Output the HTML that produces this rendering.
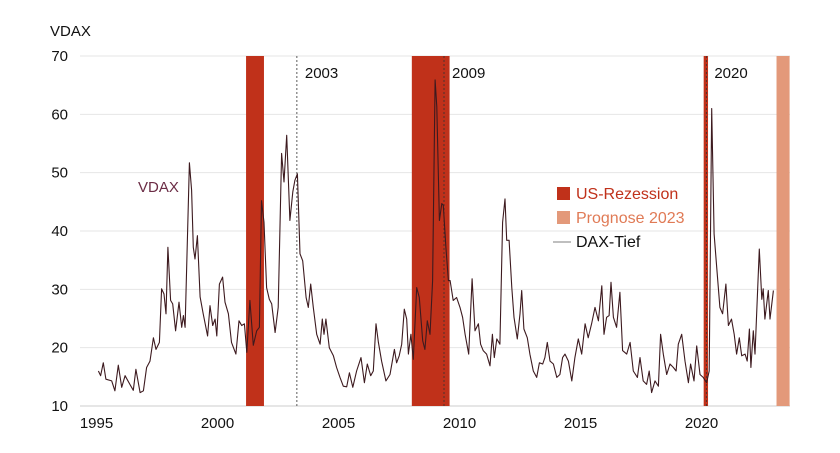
<!DOCTYPE html>
<html><head><meta charset="utf-8"><style>
body{margin:0;background:#fff;}
svg{display:block;font-family:"Liberation Sans",sans-serif;}
</style></head><body>
<svg id="chart" width="840" height="453" viewBox="0 0 840 453">
<text x="50" y="36" font-size="15" fill="#111">VDAX</text>
<g id="grid"></g><g id="bands"></g><g id="marks"></g><g id="line"></g><g id="axes"></g>
<text x="138" y="192" font-size="15" fill="#6b2c45">VDAX</text>
<g>
<rect x="557" y="187" width="13" height="13" fill="#c0311a"/>
<text x="576" y="199" font-size="16" fill="#c0311a">US-Rezession</text>
<rect x="557" y="211" width="13" height="13" fill="#e3997a"/>
<text x="576" y="223" font-size="16" fill="#e07a55">Prognose 2023</text>
<line x1="553" y1="242" x2="571" y2="242" stroke="#555" stroke-width="0.8"/>
<text x="576" y="247" font-size="16" fill="#111">DAX-Tief</text>
</g>
</svg>
<script>
const years=[1995.08,1995.17,1995.28,1995.39,1995.63,1995.76,1995.90,1996.04,1996.18,1996.38,1996.52,1996.63,1996.80,1996.94,1997.07,1997.21,1997.35,1997.46,1997.60,1997.69,1997.79,1997.87,1997.95,1998.06,1998.15,1998.27,1998.41,1998.52,1998.59,1998.66,1998.84,1998.93,1999.00,1999.07,1999.17,1999.28,1999.41,1999.59,1999.69,1999.80,1999.90,1999.97,2000.08,2000.21,2000.31,2000.45,2000.58,2000.76,2000.89,2001.00,2001.11,2001.21,2001.34,2001.48,2001.62,2001.73,2001.82,2001.92,2002.03,2002.14,2002.24,2002.38,2002.51,2002.65,2002.75,2002.86,2002.99,2003.11,2003.20,2003.30,2003.41,2003.52,2003.66,2003.75,2003.85,2003.96,2004.10,2004.24,2004.33,2004.40,2004.48,2004.62,2004.79,2004.92,2005.06,2005.20,2005.34,2005.45,2005.59,2005.75,2005.93,2006.07,2006.19,2006.33,2006.44,2006.55,2006.65,2006.78,2006.96,2007.13,2007.31,2007.40,2007.51,2007.61,2007.72,2007.82,2007.89,2007.99,2008.09,2008.23,2008.34,2008.48,2008.57,2008.67,2008.78,2008.89,2008.99,2009.06,2009.17,2009.27,2009.33,2009.44,2009.54,2009.61,2009.74,2009.88,2010.02,2010.13,2010.23,2010.38,2010.52,2010.64,2010.78,2010.87,2010.98,2011.12,2011.26,2011.36,2011.44,2011.54,2011.67,2011.78,2011.88,2011.95,2012.05,2012.16,2012.25,2012.39,2012.50,2012.57,2012.66,2012.80,2012.91,2013.05,2013.19,2013.30,2013.44,2013.53,2013.63,2013.74,2013.88,2014.02,2014.15,2014.26,2014.36,2014.50,2014.64,2014.77,2014.91,2015.05,2015.19,2015.32,2015.46,2015.60,2015.74,2015.88,2015.97,2016.08,2016.18,2016.26,2016.36,2016.49,2016.63,2016.74,2016.91,2017.05,2017.18,2017.35,2017.46,2017.59,2017.73,2017.84,2017.94,2018.08,2018.22,2018.31,2018.42,2018.56,2018.70,2018.84,2018.95,2019.04,2019.18,2019.32,2019.46,2019.55,2019.69,2019.80,2019.94,2020.07,2020.21,2020.32,2020.42,2020.52,2020.63,2020.76,2020.87,2021.01,2021.11,2021.24,2021.35,2021.45,2021.56,2021.66,2021.80,2021.89,2021.98,2022.04,2022.14,2022.21,2022.39,2022.49,2022.55,2022.62,2022.76,2022.83,2022.97];
const vdax=[16.0,15.2,17.4,14.6,14.3,12.6,17.0,13.2,15.2,13.7,12.7,16.3,12.3,12.6,16.6,17.7,21.7,19.7,20.9,30.1,29.2,25.8,37.2,28.1,27.5,22.9,27.8,23.5,25.5,23.5,51.7,47.0,37.2,35.2,39.2,28.7,25.8,22.0,27.2,23.8,24.9,22.0,30.9,32.1,27.8,25.8,20.9,18.9,24.6,23.8,24.1,19.2,28.1,20.4,22.9,23.5,45.2,41.5,30.3,28.3,27.5,22.6,26.9,53.3,48.4,56.4,41.8,46.7,48.7,49.8,36.1,34.9,28.6,26.9,30.9,26.9,22.3,20.6,24.9,22.3,24.9,20.0,18.6,16.6,14.9,13.4,13.3,15.7,13.2,16.0,18.3,14.0,17.2,15.2,16.0,24.1,20.9,17.7,14.3,15.4,19.7,17.4,18.6,20.6,26.6,24.9,18.9,22.3,18.0,30.3,28.6,21.2,19.7,24.6,22.3,31.5,65.9,61.3,41.8,44.7,44.4,37.2,31.5,31.5,28.1,28.6,26.9,25.2,22.3,18.9,31.8,22.9,24.1,20.6,19.5,18.9,16.9,22.3,18.3,21.5,20.6,41.5,45.5,38.4,38.4,30.3,25.2,21.5,25.8,29.8,23.2,21.7,18.9,16.0,14.9,17.4,17.2,18.3,20.9,17.7,17.2,14.9,15.4,18.3,18.9,17.7,14.3,18.3,21.5,18.9,24.1,21.7,24.1,26.9,24.6,30.6,22.3,25.2,25.5,31.2,25.2,23.5,29.5,19.5,18.9,20.9,16.0,14.9,18.3,14.3,13.7,16.0,12.3,14.3,13.4,22.3,18.9,15.4,17.2,16.6,16.0,20.6,22.3,17.7,14.0,17.2,14.3,20.3,15.4,14.9,14.0,16.0,61.0,39.5,33.8,26.9,25.8,30.9,23.8,24.9,22.3,18.9,21.7,18.6,18.9,17.7,23.2,16.6,22.9,18.9,36.9,28.3,30.1,24.9,29.8,24.9,29.8];
const yTicks=[10,20,30,40,50,60,70];
const xTicks=[1995,2000,2005,2010,2015,2020];
const recessionStarts=[2001.18,2008.03,2020.09];
const recessionEnds=[2001.92,2009.59,2020.27];
const forecastStart=[2023.1];
const forecastEnd=[2023.64];
const daxLowYears=[2003.28,2009.36,2020.2];
const daxLowLabels=["2003","2009","2020"];
const NS="http://www.w3.org/2000/svg";
function X(y){return 96.5+(y-1995)*24.2;}
function Y(v){return 406-(v-10)*(350/60);}
function mk(tag,attrs,parent){const e=document.createElementNS(NS,tag);for(const k in attrs)e.setAttribute(k,attrs[k]);document.getElementById(parent).appendChild(e);return e;}
yTicks.forEach(v=>{
 const l=mk('line',{x1:80,x2:790,y1:Y(v),y2:Y(v),stroke:v===10?'#ccc':'#e6e6e6','stroke-width':1},'grid');
 
 
 const t=mk('text',{x:68,y:Y(v)+5,'text-anchor':'end','font-size':15,fill:'#111'},'axes');
 t.textContent=v;
 
 
});
xTicks.forEach(y=>{
 const t=mk('text',{x:X(y),y:428,'text-anchor':'middle','font-size':15,fill:'#111'},'axes');
 t.textContent=y;
 
 
});
recessionStarts.forEach((s,i)=>{
 const r=mk('rect',{x:X(s),y:Y(70),width:Math.max(3,X(recessionEnds[i])-X(s)),height:Y(10)-Y(70),fill:'#c0311a'},'bands');
 
 
});
forecastStart.forEach((s,i)=>{
 const r=mk('rect',{x:X(s),y:Y(70),width:X(forecastEnd[i])-X(s),height:Y(10)-Y(70),fill:'#e3997a'},'bands');
 
 
});
daxLowYears.forEach((y,i)=>{
 const l=mk('line',{x1:X(y),x2:X(y),y1:Y(70),y2:Y(10),stroke:'#333','stroke-width':0.8,'stroke-dasharray':'2,2'},'marks');
 
 
 const t=mk('text',{x:X(y)+8,y:78,'font-size':15,fill:'#111'},'marks');
 t.textContent=daxLowLabels[i];
 
 
});
const p=mk('path',{d:years.map((y,i)=>(i?'L':'M')+X(y).toFixed(1)+','+Y(vdax[i]).toFixed(1)).join(''),fill:'none',stroke:'#3d1a1f','stroke-width':1.1,'stroke-linejoin':'round'},'line');


</script>
</body></html>
